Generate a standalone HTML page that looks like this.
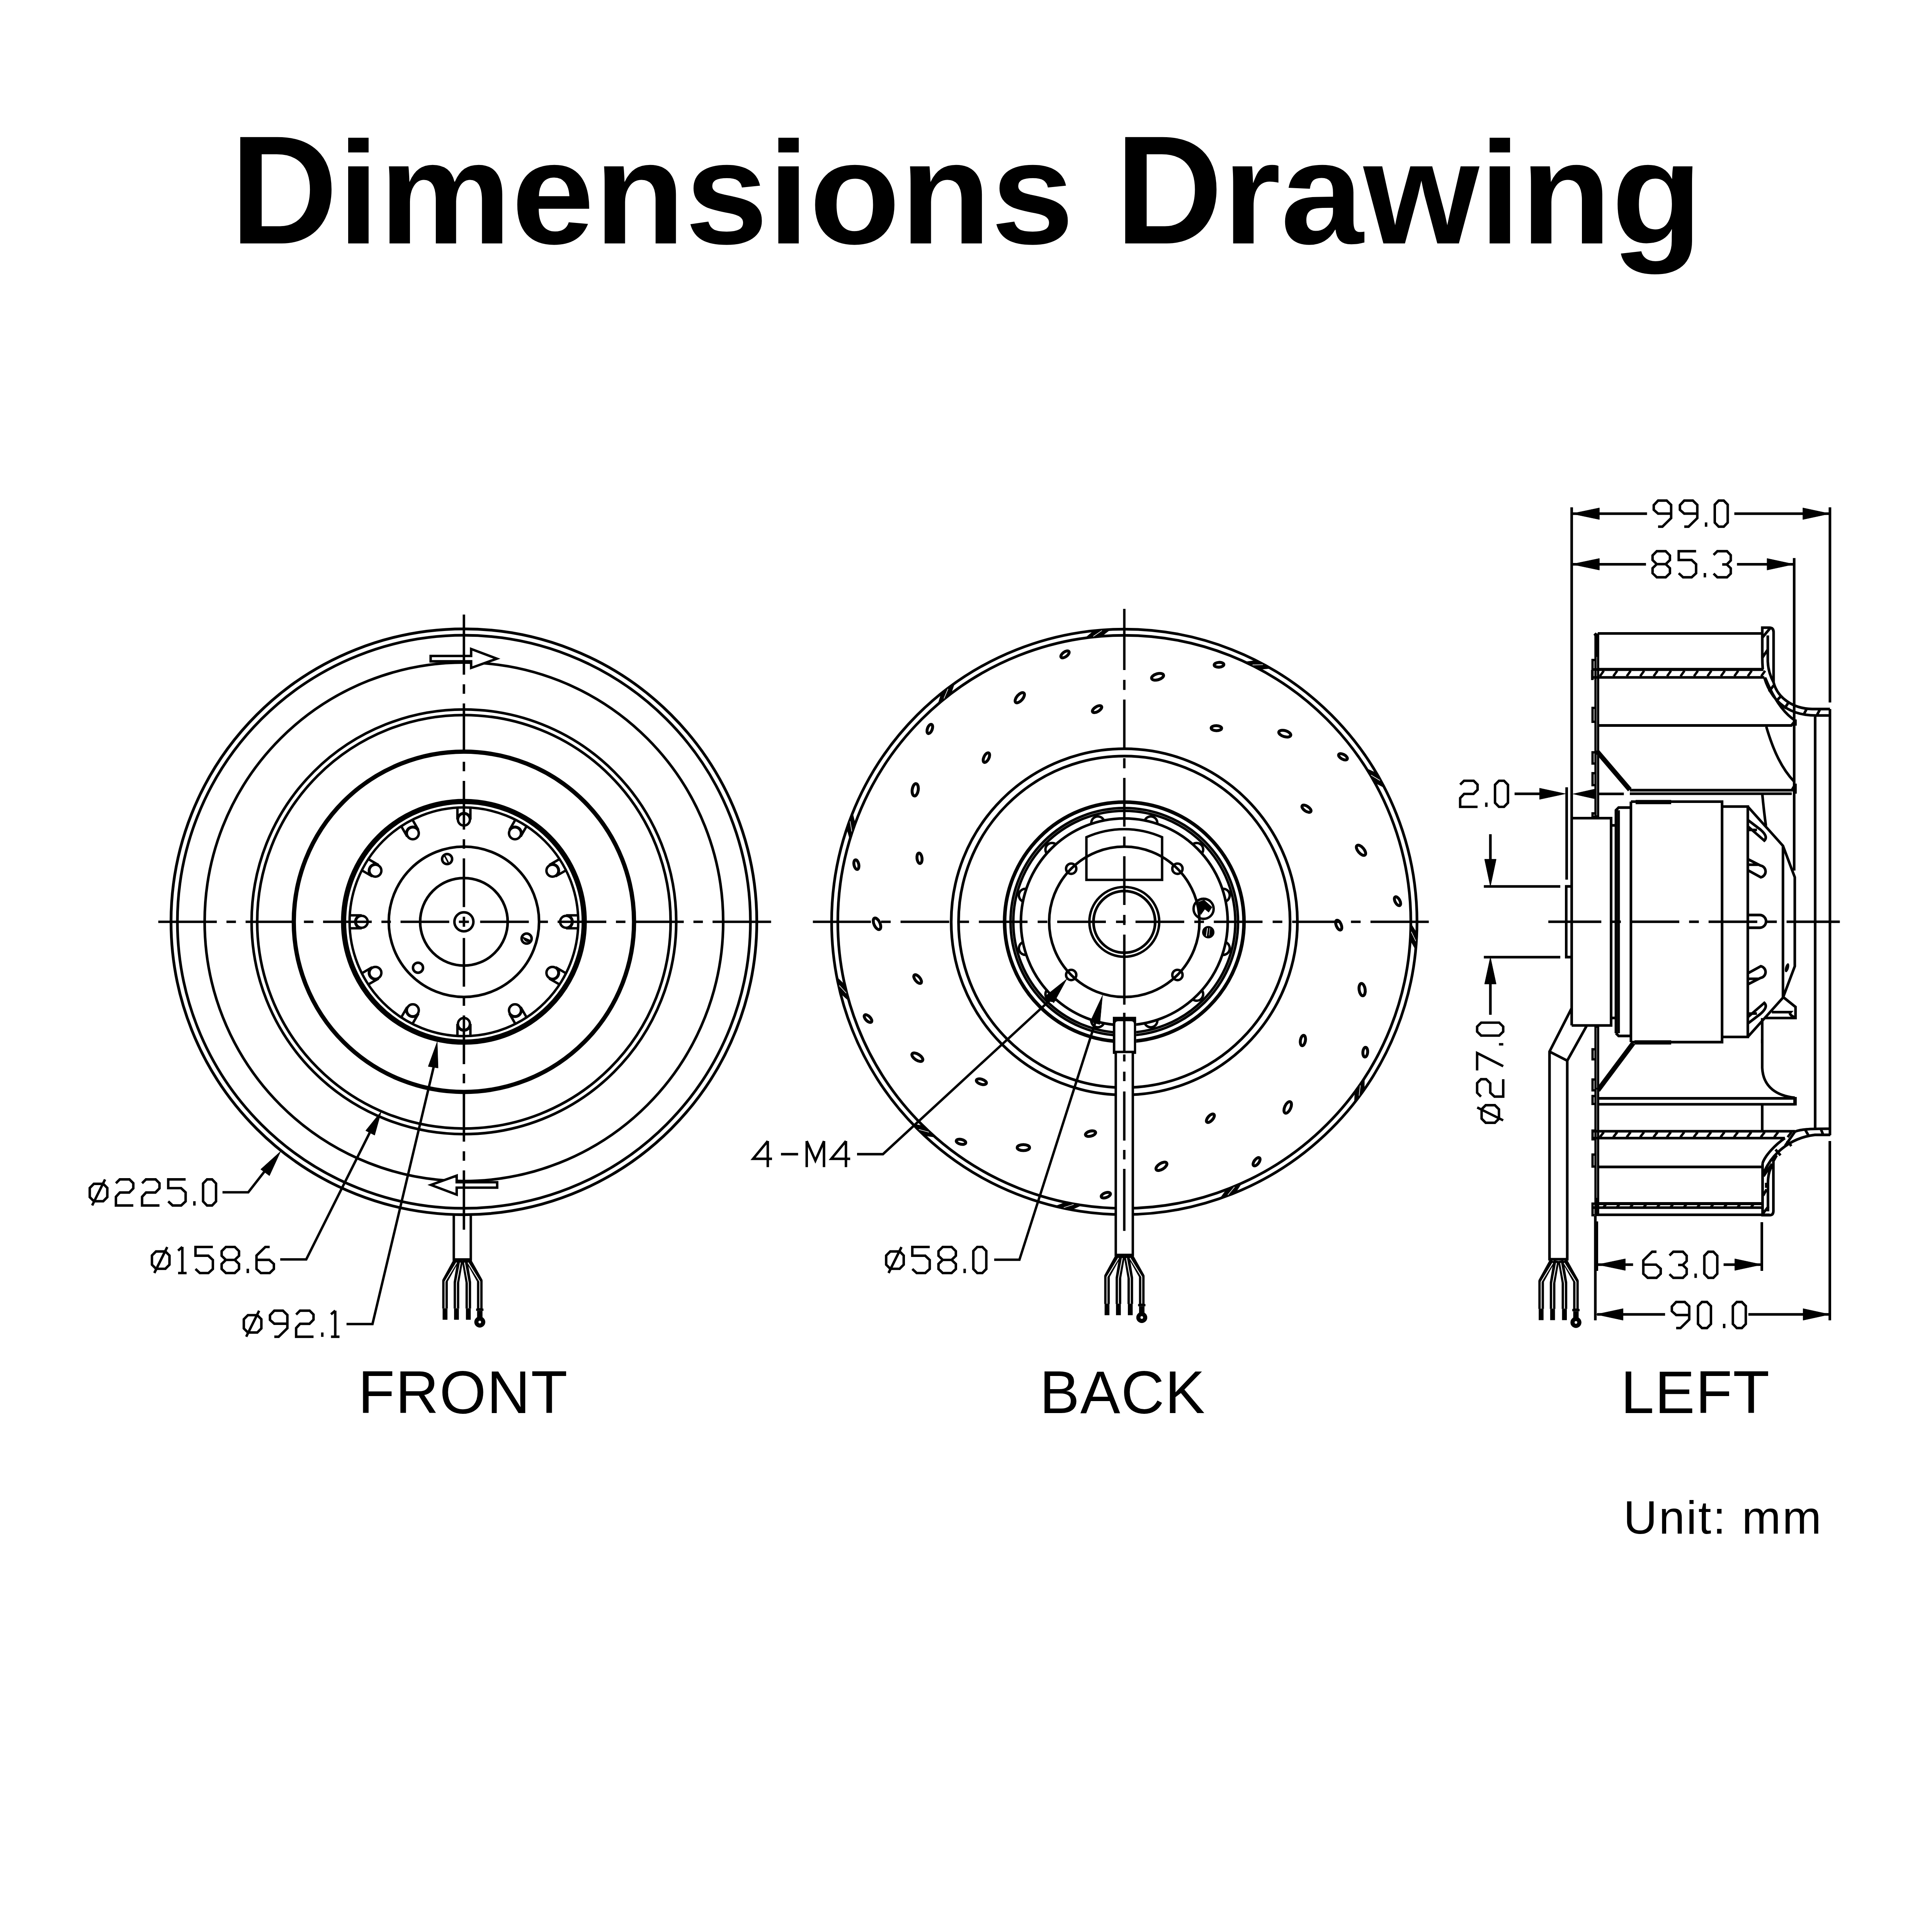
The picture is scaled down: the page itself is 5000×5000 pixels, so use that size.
<!DOCTYPE html>
<html><head><meta charset="utf-8"><title>Dimensions Drawing</title>
<style>html,body{margin:0;padding:0;background:#fff;}svg{display:block;}</style></head>
<body><svg xmlns="http://www.w3.org/2000/svg" width="5000" height="5000" viewBox="0 0 5000 5000" stroke="#000" fill="none" stroke-linecap="butt" stroke-linejoin="miter">
<rect x="0" y="0" width="5000" height="5000" fill="#fff" stroke="none"/>
<g transform="translate(596 630) scale(0.963 1)" font-family="Liberation Sans" font-weight="bold" font-size="400" fill="#000" stroke="none"><text x="0" y="0">D</text><text transform="translate(288.875 0) scale(1 0.944)" x="0" y="0">imensions</text><text x="2378.31" y="0">D</text><text transform="translate(2667.19 0) scale(1 0.944)" x="0" y="0">rawing</text></g>
<text x="926.8" y="3657" font-family="Liberation Sans" font-size="155" letter-spacing="2" fill="#000" stroke="none">FRONT</text>
<text x="2690.4" y="3657" font-family="Liberation Sans" font-size="155" letter-spacing="2" fill="#000" stroke="none">BACK</text>
<text x="4194.6" y="3657" font-family="Liberation Sans" font-size="155" letter-spacing="2" fill="#000" stroke="none">LEFT</text>
<text x="4201.5" y="3969" font-family="Liberation Sans" font-size="121" letter-spacing="4" fill="#000" stroke="none">Unit: mm</text>
<circle cx="1200.6" cy="2385.6" r="758" stroke-width="7.2" fill="none"/>
<circle cx="1200.6" cy="2385.6" r="741.5" stroke-width="7" fill="none"/>
<circle cx="1200.6" cy="2385.6" r="671" stroke-width="6.8" fill="none"/>
<circle cx="1200.6" cy="2385.6" r="549.5" stroke-width="6.8" fill="none"/>
<circle cx="1200.6" cy="2385.6" r="535" stroke-width="6.8" fill="none"/>
<circle cx="1200.6" cy="2385.6" r="440.3" stroke-width="11" fill="none"/>
<circle cx="1200.6" cy="2385.6" r="311.4" stroke-width="13.5" fill="none"/>
<circle cx="1200.6" cy="2385.6" r="295.9" stroke-width="6.3" fill="none"/>
<circle cx="1200.6" cy="2385.6" r="194.5" stroke-width="6.8" fill="none"/>
<circle cx="1200.6" cy="2385.6" r="113.3" stroke-width="6.8" fill="none"/>
<circle cx="1200.6" cy="2121.1" r="15.5" stroke-width="6.3" fill="none"/>
<circle cx="1332.8" cy="2156.5" r="15.5" stroke-width="6.3" fill="none"/>
<circle cx="1429.7" cy="2253.3" r="15.5" stroke-width="6.3" fill="none"/>
<circle cx="1465.1" cy="2385.6" r="15.5" stroke-width="6.3" fill="none"/>
<circle cx="1429.7" cy="2517.8" r="15.5" stroke-width="6.3" fill="none"/>
<circle cx="1332.8" cy="2614.7" r="15.5" stroke-width="6.3" fill="none"/>
<circle cx="1200.6" cy="2650.1" r="15.5" stroke-width="6.3" fill="none"/>
<circle cx="1068.3" cy="2614.7" r="15.5" stroke-width="6.3" fill="none"/>
<circle cx="971.5" cy="2517.8" r="15.5" stroke-width="6.3" fill="none"/>
<circle cx="936.1" cy="2385.6" r="15.5" stroke-width="6.3" fill="none"/>
<circle cx="971.5" cy="2253.3" r="15.5" stroke-width="6.3" fill="none"/>
<circle cx="1068.3" cy="2156.5" r="15.5" stroke-width="6.3" fill="none"/>
<path d="M1217.4 2089.6 L1217.4 2121.1 A16.8 16.8 0 0 0 1183.8 2121.1 L1183.8 2089.6M1363.1 2137.7 L1347.4 2164.9 A16.8 16.8 0 0 0 1318.3 2148.1 L1334.1 2120.9M1465.3 2252.1 L1438.1 2267.9 A16.8 16.8 0 0 0 1421.3 2238.8 L1448.5 2223.1M1496.6 2402.4 L1465.1 2402.4 A16.8 16.8 0 0 0 1465.1 2368.8 L1496.6 2368.8M1448.5 2548.1 L1421.3 2532.4 A16.8 16.8 0 0 0 1438.1 2503.3 L1465.3 2519.1M1334.1 2650.3 L1318.3 2623.1 A16.8 16.8 0 0 0 1347.4 2606.3 L1363.1 2633.5M1183.8 2681.6 L1183.8 2650.1 A16.8 16.8 0 0 0 1217.4 2650.1 L1217.4 2681.6M1038.1 2633.5 L1053.8 2606.3 A16.8 16.8 0 0 0 1082.9 2623.1 L1067.1 2650.3M935.9 2519.1 L963.1 2503.3 A16.8 16.8 0 0 0 979.9 2532.4 L952.7 2548.1M904.6 2368.8 L936.1 2368.8 A16.8 16.8 0 0 0 936.1 2402.4 L904.6 2402.4M952.7 2223.1 L979.9 2238.8 A16.8 16.8 0 0 0 963.1 2267.9 L935.9 2252.1M1067.1 2120.9 L1082.9 2148.1 A16.8 16.8 0 0 0 1053.8 2164.9 L1038.1 2137.7" stroke-width="6.3" fill="none"/>
<circle cx="1362.9" cy="2429.1" r="13" stroke-width="6.5" fill="none"/>
<circle cx="1081.8" cy="2504.4" r="13" stroke-width="6.5" fill="none"/>
<circle cx="1157.1" cy="2223.3" r="13" stroke-width="6.5" fill="none"/>
<path d="M1151.1 2215.3 L1160.1 2232.3" stroke-width="4" fill="none"/>
<path d="M1353.9 2426.1 Q1360.9 2441.1 1372.9 2434.1 Z" stroke-width="3" fill="#000"/>
<circle cx="1200.6" cy="2385.6" r="24.6" stroke-width="6.5" fill="none"/>
<path d="M1187.6 2385.6H1213.6 M1200.6 2372.6V2398.6" stroke-width="6.3" fill="none"/>
<path d="M1114.5 1697.6 L1219.3 1697.6 L1219.3 1679.6 L1285.9 1704.6 L1219.3 1728.6 L1219.3 1711.5 L1114.5 1711.5 Z" stroke-width="6.3" fill="#fff"/>
<path d="M1114.5 1697.6 L1219.3 1697.6 L1219.3 1679.6 L1285.9 1704.6 L1219.3 1728.6 L1219.3 1711.5 L1114.5 1711.5 Z" stroke-width="6.3" fill="#fff" transform="rotate(180 1200.6 2385.6)"/>
<path d="M1242.6 2385.6H1368.6M1393.6 2385.6H1418.1M1443.1 2385.6H1569.1M1594.1 2385.6H1618.6M1643.6 2385.6H1769.6M1794.6 2385.6H1819.1M1844.1 2385.6H1995.6M1162.6 2385.6H1036.6M1011.6 2385.6H987.1M962.1 2385.6H836.1M811.1 2385.6H786.6M761.6 2385.6H635.6M610.6 2385.6H586.1M561.1 2385.6H409.6" stroke-width="6.3" fill="none"/>
<path d="M1200.6 2427.4V2553.4M1200.6 2578.4V2602.9M1200.6 2627.9V2753.9M1200.6 2778.9V2803.4M1200.6 2828.4V2954.4M1200.6 2979.4V3003.9M1200.6 3028.9V3182.6M1200.6 2347.4V2221.4M1200.6 2196.4V2171.9M1200.6 2146.9V2020.9M1200.6 1995.9V1971.4M1200.6 1946.4V1820.4M1200.6 1795.4V1770.9M1200.6 1745.9V1590.6" stroke-width="6.3" fill="none"/>
<path d="M1174.4 3141 V3259.5 H1218.4 V3141" stroke-width="6.3" fill="none"/>
<path d="M1180.9 3261.5 L1151.7 3314.5 L1151.7 3386.5M1191 3261.5 L1181.3 3318.5 L1181.3 3386.5M1202.4 3261.5 L1212 3318.5 L1212 3386.5M1212 3261.5 L1241.7 3314.5 L1241.7 3387.5" stroke-width="14.5" fill="none" stroke-linejoin="round"/>
<path d="M1181.7 3267.5 L1151.7 3316.5 L1151.7 3385.5M1191.3 3267.5 L1181.3 3320.5 L1181.3 3385.5M1202.1 3267.5 L1212 3320.5 L1212 3385.5M1211.2 3267.5 L1241.7 3316.5 L1241.7 3385.5" stroke-width="2.4" fill="none" stroke="#fff"/>
<rect x="1145.5" y="3386.5" width="12.5" height="29" fill="#000" stroke="none"/>
<rect x="1175.1" y="3386.5" width="12.5" height="29" fill="#000" stroke="none"/>
<rect x="1205.8" y="3386.5" width="12.5" height="29" fill="#000" stroke="none"/>
<rect x="1232.2" y="3386.5" width="19" height="6" fill="#000" stroke="none"/>
<rect x="1234.7" y="3392.5" width="14" height="24" fill="#000" stroke="none"/>
<circle cx="1241.7" cy="3421.5" r="14.2" fill="#000" stroke="none"/>
<circle cx="1241.7" cy="3421.5" r="3.4" fill="#fff" stroke="none"/>
<circle cx="2909.7" cy="2385.7" r="757.5" stroke-width="7" fill="none"/>
<circle cx="2909.7" cy="2385.7" r="741.5" stroke-width="7" fill="none"/>
<circle cx="2909.7" cy="2385.7" r="448" stroke-width="7" fill="none"/>
<circle cx="2909.7" cy="2385.7" r="429" stroke-width="7" fill="none"/>
<circle cx="2909.7" cy="2385.7" r="309.8" stroke-width="9.2" fill="none"/>
<circle cx="2909.7" cy="2385.7" r="294.4" stroke-width="6.5" fill="none"/>
<circle cx="2909.7" cy="2385.7" r="287.3" stroke-width="6.5" fill="none"/>
<circle cx="2909.7" cy="2385.7" r="267.6" stroke-width="6.8" fill="none"/>
<circle cx="2909.7" cy="2385.7" r="194.5" stroke-width="6.8" fill="none"/>
<circle cx="2909.7" cy="2385.7" r="90.4" stroke-width="6.3" fill="none"/>
<circle cx="2909.7" cy="2385.7" r="79.8" stroke-width="7" fill="none"/>
<polygon points="2810.3,1650.9 2832.5,1632.1 2872,1629.1 2849.6,1646.6" stroke-width="3" fill="#000"/>
<line x1="2829.5" y1="1647" x2="2851.7" y2="1631.9" stroke-width="1.6"/>
<line x1="2829.5" y1="1647" x2="2851.7" y2="1631.9" stroke="#fff" stroke-width="1.6"/>
<polygon points="3223.4,1713.8 3252.2,1710 3287,1728.9 3258.7,1731.5" stroke-width="3" fill="#000"/>
<line x1="3241.5" y1="1720.9" x2="3268.4" y2="1720.2" stroke-width="1.6"/>
<line x1="3241.5" y1="1720.9" x2="3268.4" y2="1720.2" stroke="#fff" stroke-width="1.6"/>
<polygon points="3536.8,1990.1 3563.1,2002.4 3582.2,2037.2 3557,2024" stroke-width="3" fill="#000"/>
<line x1="3548.3" y1="2005.9" x2="3571.3" y2="2019.8" stroke-width="1.6"/>
<line x1="3548.3" y1="2005.9" x2="3571.3" y2="2019.8" stroke="#fff" stroke-width="1.6"/>
<polygon points="3651.2,2391.9 3666.6,2416.5 3663.9,2456.1 3649.8,2431.4" stroke-width="3" fill="#000"/>
<line x1="3652.3" y1="2411.4" x2="3664.1" y2="2435.6" stroke-width="1.6"/>
<line x1="3652.3" y1="2411.4" x2="3664.1" y2="2435.6" stroke="#fff" stroke-width="1.6"/>
<polygon points="3530.1,2791.8 3529.8,2820.8 3506.1,2852.7 3507.6,2824.3" stroke-width="3" fill="#000"/>
<line x1="3520.5" y1="2808.8" x2="3517.3" y2="2835.5" stroke-width="1.6"/>
<line x1="3520.5" y1="2808.8" x2="3517.3" y2="2835.5" stroke="#fff" stroke-width="1.6"/>
<polygon points="3212,3062.8 3196.1,3087 3159,3101 3175.6,3077.9" stroke-width="3" fill="#000"/>
<line x1="3194.8" y1="3071.8" x2="3177.7" y2="3092.6" stroke-width="1.6"/>
<line x1="3194.8" y1="3071.8" x2="3177.7" y2="3092.6" stroke="#fff" stroke-width="1.6"/>
<polygon points="2798,3118.7 2771.5,3130.5 2732.7,3122.2 2759.2,3111.8" stroke-width="3" fill="#000"/>
<line x1="2778.6" y1="3117" x2="2753" y2="3125.3" stroke-width="1.6"/>
<line x1="2778.6" y1="3117" x2="2753" y2="3125.3" stroke="#fff" stroke-width="1.6"/>
<polygon points="2419.4,2942 2390.8,2937.5 2362.6,2909.6 2390.5,2915.1" stroke-width="3" fill="#000"/>
<line x1="2404" y1="2930.1" x2="2378" y2="2923.1" stroke-width="1.6"/>
<line x1="2404" y1="2930.1" x2="2378" y2="2923.1" stroke="#fff" stroke-width="1.6"/>
<polygon points="2196.5,2588.6 2174.8,2569.4 2166.2,2530.6 2186.7,2550.4" stroke-width="3" fill="#000"/>
<line x1="2190" y1="2570.2" x2="2171.9" y2="2550.4" stroke-width="1.6"/>
<line x1="2190" y1="2570.2" x2="2171.9" y2="2550.4" stroke="#fff" stroke-width="1.6"/>
<polygon points="2200,2170.8 2192.2,2142.9 2205.9,2105.7 2212.5,2133.4" stroke-width="3" fill="#000"/>
<line x1="2204.5" y1="2151.8" x2="2200" y2="2125.3" stroke-width="1.6"/>
<line x1="2204.5" y1="2151.8" x2="2200" y2="2125.3" stroke="#fff" stroke-width="1.6"/>
<polygon points="2428.9,1821.2 2437.3,1793.5 2469,1769.6 2459.6,1796.5" stroke-width="3" fill="#000"/>
<line x1="2442.9" y1="1807.7" x2="2453.4" y2="1782.9" stroke-width="1.6"/>
<line x1="2442.9" y1="1807.7" x2="2453.4" y2="1782.9" stroke="#fff" stroke-width="1.6"/>
<ellipse cx="2756.2" cy="1693.5" rx="12.5" ry="6.2" stroke-width="7.6" fill="none" transform="rotate(-36.5 2756.2 1693.5)"/>
<ellipse cx="3154.8" cy="1720.4" rx="12.5" ry="6.2" stroke-width="7.6" fill="none" transform="rotate(-3.8 3154.8 1720.4)"/>
<ellipse cx="3475.6" cy="1958.6" rx="12.5" ry="6.2" stroke-width="7.6" fill="none" transform="rotate(29 3475.6 1958.6)"/>
<ellipse cx="3616.7" cy="2332.3" rx="12.5" ry="6.2" stroke-width="7.6" fill="none" transform="rotate(61.7 3616.7 2332.3)"/>
<ellipse cx="3533.3" cy="2723" rx="12.5" ry="6.2" stroke-width="7.6" fill="none" transform="rotate(94.4 3533.3 2723)"/>
<ellipse cx="3252" cy="3006.6" rx="12.5" ry="6.2" stroke-width="7.6" fill="none" transform="rotate(127.1 3252 3006.6)"/>
<ellipse cx="2861.9" cy="3093.1" rx="12.5" ry="6.2" stroke-width="7.6" fill="none" transform="rotate(159.9 2861.9 3093.1)"/>
<ellipse cx="2487.1" cy="2955" rx="12.5" ry="6.2" stroke-width="7.6" fill="none" transform="rotate(192.6 2487.1 2955)"/>
<ellipse cx="2246.4" cy="2636.1" rx="12.5" ry="6.2" stroke-width="7.6" fill="none" transform="rotate(225.3 2246.4 2636.1)"/>
<ellipse cx="2216.3" cy="2237.7" rx="12.5" ry="6.2" stroke-width="7.6" fill="none" transform="rotate(258 2216.3 2237.7)"/>
<ellipse cx="2406.4" cy="1886.4" rx="12.5" ry="6.2" stroke-width="7.6" fill="none" transform="rotate(290.8 2406.4 1886.4)"/>
<ellipse cx="2639.2" cy="1805.7" rx="16" ry="7.8" stroke-width="7.6" fill="none" transform="rotate(-49 2639.2 1805.7)"/>
<ellipse cx="2995.8" cy="1751.5" rx="16" ry="7.8" stroke-width="7.6" fill="none" transform="rotate(-16.3 2995.8 1751.5)"/>
<ellipse cx="3325" cy="1898.7" rx="16" ry="7.8" stroke-width="7.6" fill="none" transform="rotate(16.5 3325 1898.7)"/>
<ellipse cx="3522.3" cy="2200.5" rx="16" ry="7.8" stroke-width="7.6" fill="none" transform="rotate(49.2 3522.3 2200.5)"/>
<ellipse cx="3525.2" cy="2561.1" rx="16" ry="7.8" stroke-width="7.6" fill="none" transform="rotate(81.9 3525.2 2561.1)"/>
<ellipse cx="3332.6" cy="2866" rx="16" ry="7.8" stroke-width="7.6" fill="none" transform="rotate(114.6 3332.6 2866)"/>
<ellipse cx="3005.8" cy="3018.4" rx="16" ry="7.8" stroke-width="7.6" fill="none" transform="rotate(147.4 3005.8 3018.4)"/>
<ellipse cx="2648.5" cy="2970" rx="16" ry="7.8" stroke-width="7.6" fill="none" transform="rotate(180.1 2648.5 2970)"/>
<ellipse cx="2374.1" cy="2736" rx="16" ry="7.8" stroke-width="7.6" fill="none" transform="rotate(212.8 2374.1 2736)"/>
<ellipse cx="2269.7" cy="2390.8" rx="16" ry="7.8" stroke-width="7.6" fill="none" transform="rotate(245.5 2269.7 2390.8)"/>
<ellipse cx="2368.6" cy="2044" rx="16" ry="7.8" stroke-width="7.6" fill="none" transform="rotate(278.3 2368.6 2044)"/>
<ellipse cx="2839.2" cy="1835.2" rx="13.5" ry="6.5" stroke-width="7.6" fill="none" transform="rotate(-31.3 2839.2 1835.2)"/>
<ellipse cx="3148" cy="1884.5" rx="13.5" ry="6.5" stroke-width="7.6" fill="none" transform="rotate(1.4 3148 1884.5)"/>
<ellipse cx="3381.2" cy="2092.9" rx="13.5" ry="6.5" stroke-width="7.6" fill="none" transform="rotate(34.2 3381.2 2092.9)"/>
<ellipse cx="3464.6" cy="2394.2" rx="13.5" ry="6.5" stroke-width="7.6" fill="none" transform="rotate(66.9 3464.6 2394.2)"/>
<ellipse cx="3371.9" cy="2692.9" rx="13.5" ry="6.5" stroke-width="7.6" fill="none" transform="rotate(99.6 3371.9 2692.9)"/>
<ellipse cx="3132.5" cy="2894" rx="13.5" ry="6.5" stroke-width="7.6" fill="none" transform="rotate(132.3 3132.5 2894)"/>
<ellipse cx="2822.3" cy="2933.8" rx="13.5" ry="6.5" stroke-width="7.6" fill="none" transform="rotate(165.1 2822.3 2933.8)"/>
<ellipse cx="2539.8" cy="2799.5" rx="13.5" ry="6.5" stroke-width="7.6" fill="none" transform="rotate(197.8 2539.8 2799.5)"/>
<ellipse cx="2374.8" cy="2533.8" rx="13.5" ry="6.5" stroke-width="7.6" fill="none" transform="rotate(230.5 2374.8 2533.8)"/>
<ellipse cx="2379.7" cy="2221.2" rx="13.5" ry="6.5" stroke-width="7.6" fill="none" transform="rotate(263.2 2379.7 2221.2)"/>
<ellipse cx="2552.8" cy="1960.7" rx="13.5" ry="6.5" stroke-width="7.6" fill="none" transform="rotate(296 2552.8 1960.7)"/>
<path d="M3162.8 2471 A17 17 0 0 0 3171.5 2438.3M3086.2 2586.1 A17 17 0 0 0 3110.1 2562.2M2962.3 2647.5 A17 17 0 0 0 2995 2638.8M2824.4 2638.8 A17 17 0 0 0 2857.1 2647.5M2709.3 2562.2 A17 17 0 0 0 2733.2 2586.1M2647.9 2438.3 A17 17 0 0 0 2656.6 2471M2656.6 2300.4 A17 17 0 0 0 2647.9 2333.1M2733.2 2185.3 A17 17 0 0 0 2709.3 2209.2M2857.1 2123.9 A17 17 0 0 0 2824.4 2132.6M2995 2132.6 A17 17 0 0 0 2962.3 2123.9M3110.1 2209.2 A17 17 0 0 0 3086.2 2185.3M3171.5 2333.1 A17 17 0 0 0 3162.8 2300.4" stroke-width="6.3" fill="none"/>
<circle cx="3047.2" cy="2523.2" r="13.3" stroke-width="6.3" fill="none"/>
<circle cx="2772.2" cy="2523.2" r="13.3" stroke-width="6.3" fill="none"/>
<circle cx="2772.2" cy="2248.2" r="13.3" stroke-width="6.3" fill="none"/>
<circle cx="3047.2" cy="2248.2" r="13.3" stroke-width="6.3" fill="none"/>
<path d="M2811.6 2166.7 A240 240 0 0 1 3007.5 2166.7 V2277.2 H2811.6 Z" stroke-width="6.3" fill="none"/>
<circle cx="3114.9" cy="2352" r="26" stroke-width="6.3" fill="none"/>
<path d="M3102 2335 L3116 2330 L3136 2348 L3128 2360 L3118 2352 L3108 2366 L3104 2356 Z" stroke-width="2" fill="#000"/>
<ellipse cx="3127" cy="2412.5" rx="16" ry="16" fill="#000" stroke="none"/>
<line x1="3125" y1="2402" x2="3122" y2="2423" stroke="#fff" stroke-width="2.2"/>
<line x1="3131" y1="2402" x2="3129" y2="2421" stroke="#fff" stroke-width="1.2"/>
<path d="M2103.7 2385.7H2253.9M2280.1 2385.7H2305.1M2330.6 2385.7H2456.6M2482.8 2385.7H2507.8M2533.3 2385.7H2659.3M2685.5 2385.7H2710.5M2736 2385.7H2862M2888.2 2385.7H2913.2M2938.7 2385.7H3064.7M3090.9 2385.7H3115.9M3141.4 2385.7H3267.4M3293.6 2385.7H3318.6M3344.1 2385.7H3470.1M3496.3 2385.7H3521.3M3546.8 2385.7H3697.7" stroke-width="6.3" fill="none"/>
<path d="M2909.7 1575.7V1733.9M2909.7 1759.6V1785.6M2909.7 1810.6V1936.6M2909.7 1962.3V1988.3M2909.7 2013.3V2139.3M2909.7 2165V2191M2909.7 2216V2342M2909.7 2367.7V2393.7M2909.7 2418.7V2600" stroke-width="6.3" fill="none"/>
<rect x="2880" y="2631.5" width="60.3" height="96" fill="#fff" stroke="none"/>
<path d="M2880 2631.5 H2940.3 V2727.5 H2880 Z M2886.5 2650 Q2886.5 2643 2893.5 2643 H2927.5 Q2934.5 2643 2934.5 2650 V2721 H2886.5 Z" fill="#000" fill-rule="evenodd" stroke="none"/>
<rect x="2887.6" y="2722.4" width="44.1" height="525.3" fill="#fff" stroke-width="6.3"/>
<path d="M2909.6 2621V2724.6M2909.6 2729V2747M2909.6 2773.6V2798M2909.6 2824.8V2951.7M2909.6 2976V3000.6M2909.6 3025V3185.4" stroke-width="6.3" fill="none"/>
<path d="M2894.1 3249.7 L2864.9 3302.7 L2864.9 3374.7M2904.2 3249.7 L2894.5 3306.7 L2894.5 3374.7M2915.6 3249.7 L2925.2 3306.7 L2925.2 3374.7M2925.2 3249.7 L2954.9 3302.7 L2954.9 3375.7" stroke-width="14.5" fill="none" stroke-linejoin="round"/>
<path d="M2894.9 3255.7 L2864.9 3304.7 L2864.9 3373.7M2904.5 3255.7 L2894.5 3308.7 L2894.5 3373.7M2915.3 3255.7 L2925.2 3308.7 L2925.2 3373.7M2924.4 3255.7 L2954.9 3304.7 L2954.9 3373.7" stroke-width="2.4" fill="none" stroke="#fff"/>
<rect x="2858.7" y="3374.7" width="12.5" height="29" fill="#000" stroke="none"/>
<rect x="2888.2" y="3374.7" width="12.5" height="29" fill="#000" stroke="none"/>
<rect x="2918.9" y="3374.7" width="12.5" height="29" fill="#000" stroke="none"/>
<rect x="2945.4" y="3374.7" width="19" height="6" fill="#000" stroke="none"/>
<rect x="2947.9" y="3380.7" width="14" height="24" fill="#000" stroke="none"/>
<circle cx="2954.9" cy="3409.7" r="14.2" fill="#000" stroke="none"/>
<circle cx="2954.9" cy="3409.7" r="3.4" fill="#fff" stroke="none"/>
<path d="M4067.5 1313 V2653.8 M4735.9 1313 V1818 M4643.3 1444.3 V2253 M4070 1329.4 H4262.5 M4488.4 1329.4 H4733 M4070 1460.3 H4259.8 M4495.3 1460.3 H4640 M3919.7 2054.4 H3990 M4135.9 2054.7 H4202.5 M4054.5 2037.6 V2276.5 M3857.1 2159.1 V2230 M3857.1 2540 V2626.2 M3840.2 2294.1 H4038 M3840.2 2477.1 H4038 M4134.5 3272.8 H4226.4 M4460.6 3272.8 H4557 M4132.6 3161 V3289 M4559.6 3163 V3289 M4133 3401.7 H4309.2 M4524.7 3401.7 H4733 M4128.7 3145.5 V3417 M4735.6 2953 V3417" stroke-width="6.8" fill="none"/>
<polygon points="4067.5,1329.4 4139.2,1314.4 4139.2,1344.4" stroke-width="1" fill="#000"/>
<polygon points="4735.9,1329.4 4665.8,1344.4 4665.8,1314.4" stroke-width="1" fill="#000"/>
<polygon points="4067.5,1460.3 4139.2,1445.3 4139.2,1475.3" stroke-width="1" fill="#000"/>
<polygon points="4642.8,1460.3 4573.1,1475.3 4573.1,1445.3" stroke-width="1" fill="#000"/>
<polygon points="4051.6,2054.3 3984.3,2068.8 3984.3,2039.8" stroke-width="1" fill="#000"/>
<polygon points="4071,2054.7 4129.1,2041.7 4129.1,2067.7" stroke-width="1" fill="#000"/>
<polygon points="3857.1,2294.1 3842.1,2223.7 3872.1,2223.7" stroke-width="1" fill="#000"/>
<polygon points="3857.1,2477.1 3872.1,2546.7 3842.1,2546.7" stroke-width="1" fill="#000"/>
<polygon points="4134.5,3272.8 4206.3,3257.8 4206.3,3287.8" stroke-width="1" fill="#000"/>
<polygon points="4559.6,3272.8 4489.7,3287.8 4489.7,3257.8" stroke-width="1" fill="#000"/>
<polygon points="4130.6,3401.7 4200.5,3386.7 4200.5,3416.7" stroke-width="1" fill="#000"/>
<polygon points="4735.4,3401.7 4666.4,3416.7 4666.4,3386.7" stroke-width="1" fill="#000"/>
<path d="M4067.5 2294 H4053.4 V2477 H4067.5 M4067.5 2117.3 H4169.5 V2653.8 H4067.5 M4169.5 2136 H4182 M4169.5 2634.5 H4182 M4182 2674 V2097 L4189 2090 H4221 M4188.9 2097 V2674 M4182 2674 L4189 2681 H4221 M4220.8 2074.6 V2697 M4220.8 2074.6 H4456.7 V2697 H4220.8 M4456.7 2087.4 H4523.3 V2683.6 H4456.7 M4523.3 2087.4 L4614.3 2189 L4644.9 2270.3 V2500.7 L4614.3 2582 L4523.3 2683.6 M4614.3 2189 V2582 M4523.3 2368 H4554 A16 16 0 0 1 4554 2401 H4523.3 M4523.3 2223.4 L4556 2240 A15.5 15.5 0 0 1 4557 2270.5 L4523.3 2252.1 M4523.3 2237.8 H4551 M4523.3 2547.6 L4556 2531 A15.5 15.5 0 0 0 4557 2500.5 L4523.3 2518.9 M4523.3 2533.2 H4551 M4523.3 2122 L4556 2147 Q4577 2165 4566 2175.5 L4523.3 2138.5 M4523.3 2147.8 H4547 M4523.3 2649 L4556 2624 Q4577 2606 4566 2595.5 L4523.3 2632.5 M4523.3 2623.2 H4547 M4560.6 2053 Q4565 2100 4570.2 2137.2 M4614.3 2580 L4646.8 2606 V2634.7 H4566.4 M4585.5 2619.4 H4634 Q4628 2626 4646.8 2634 M4560.6 2634.7 V2700 M4560.6 2858 V2926.7" stroke-width="6.8" fill="none"/>
<path d="M4233 2075.7 H4325 M4230 2697.8 H4325" stroke-width="11" fill="none"/>
<ellipse cx="4624.8" cy="2504.5" rx="5" ry="12" transform="rotate(15 4624.8 2504.5)" fill="#000" stroke="none"/>
<path d="M4135 1639.3 H4560.8 M4126 1645 L4132 1639.3 M4135 1877.5 H4635.8 L4646.4 1865.2 M4218 2045 H4637.2 L4646 2030 M4218 2054.1 H4637.2 M4571.2 1880.9 C4590 1945 4612 1990 4643 2022.5 M4590 1635.5 V1766 M4562 1732.3 Q4560.8 1715 4560.8 1700 V1624.3 H4579 Q4590 1624.3 4590 1636 M4575 1644.5 V1712 Q4576 1740 4590 1766 M4561 1650 L4581 1626 M4561 1702 L4575 1681 M4590 1766 C4600 1806 4640 1834 4690 1835 H4735.9 M4566 1753.3 C4580 1800 4615 1851.7 4699.6 1851.7 H4735.9 M4568.3 1754 C4590 1808 4615 1845 4646.4 1865.2 M4697.6 1851.7 V2920 M4735.9 1835 V2938 M4578 1790 L4590 1774 M4596 1815 L4611 1800 M4618 1834 L4630 1816 M4668 1849 L4676 1834 M4702 1851 L4710 1836" stroke-width="6.8" fill="none"/>
<path d="M4132.5 1639.3 V2117.3 M4132.5 2653.8 V3144" stroke-width="12.5" fill="none"/>
<path d="M4132.5 1700 V2110 M4132.5 2660 V3100" stroke="#fff" stroke-width="1"/>
<path d="M4120 1732.6 H4563.5 M4120 1753.1 H4566" stroke-width="6.8" fill="none"/>
<path d="M4135 1732.6 H4563.5" stroke-width="8" fill="none"/>
<path d="M4140.5 1750 L4150.5 1736M4175.3 1750 L4185.3 1736M4210.1 1750 L4220.1 1736M4244.9 1750 L4254.9 1736M4279.7 1750 L4289.7 1736M4314.5 1750 L4324.5 1736M4349.3 1750 L4359.3 1736M4384.1 1750 L4394.1 1736M4418.9 1750 L4428.9 1736M4453.7 1750 L4463.7 1736M4488.5 1750 L4498.5 1736M4523.3 1750 L4533.3 1736M4558.1 1750 L4568.1 1736" stroke-width="6.2" fill="none"/>
<path d="M4121 1734 V1760" stroke-width="6.8" fill="none"/>
<path d="M4131.8 1943 L4218 2043.9" stroke-width="12.5" fill="none"/>
<path d="M4645.5 1862 V1878 M4645.5 2028 V2054" stroke-width="9" fill="none"/>
<path d="M4136 2842.5 H4645.4 M4136 2857.8 H4645.4 M4560.6 2690 V2763.4 C4563 2815 4600 2836 4645 2841 M4120 2927.7 H4645.4 M4120 2945.4 H4619.3 M4619.3 2945.4 C4595 2962 4568 2990 4561.5 3010.6 M4645.4 2928.6 C4660 2923 4680 2921 4736.7 2921.2 M4561.5 3044 C4580 2990 4630 2945 4697 2937 H4736.7 M4645.4 2928.6 L4620 2965 M4135 3020 H4561.5 M4561.5 3010.6 V3144.8 H4580 Q4589.5 3144.8 4589.5 3134 V3005 L4598 2990 M4575.5 3135 V3060 Q4576 3032 4586 3018 M4120 3125.3 H4561.5 M4128 3143.9 H4580 M4563 3140 L4577 3122 M4563 3094 L4572 3078 M4564 3044 L4586 3012 M4571 3061 V3074 M4595 2975 L4608 2990 M4625 2952 L4636 2966 M4672 2924 L4680 2938 M4712 2921 L4718 2936" stroke-width="6.8" fill="none"/>
<path d="M4135 3115 H4561.5" stroke-width="8" fill="none"/>
<path d="M4140.5 2943 L4150.5 2930M4175.2 2943 L4185.2 2930M4209.9 2943 L4219.9 2930M4244.6 2943 L4254.6 2930M4279.3 2943 L4289.3 2930M4314 2943 L4324 2930M4348.7 2943 L4358.7 2930M4383.4 2943 L4393.4 2930M4418.1 2943 L4428.1 2930M4452.8 2943 L4462.8 2930M4487.5 2943 L4497.5 2930M4522.2 2943 L4532.2 2930M4556.9 2943 L4566.9 2930M4591.6 2943 L4601.6 2930M4626.3 2943 L4636.3 2930M4150 3124 L4157 3116M4184.7 3124 L4191.7 3116M4219.4 3124 L4226.4 3116M4254.1 3124 L4261.1 3116M4288.8 3124 L4295.8 3116M4323.5 3124 L4330.5 3116M4358.2 3124 L4365.2 3116M4392.9 3124 L4399.9 3116M4427.6 3124 L4434.6 3116M4462.3 3124 L4469.3 3116M4497 3124 L4504 3116M4531.7 3124 L4538.7 3116" stroke-width="6.2" fill="none"/>
<path d="M4135.4 2821.7 L4226.7 2699.7" stroke-width="12.5" fill="none"/>
<path d="M4645.5 2839 V2861" stroke-width="9" fill="none"/>
<path d="M4127 1708 H4121.5 V1733 H4127M4127 1832 H4121.5 V1868 H4127M4127 1947 H4121.5 V1976 H4127M4127 2001 H4121.5 V2032 H4127M4127 2105 H4121.5 V2114 H4127M4127 2715.5 H4121.5 V2741.6 H4127M4127 2793.7 H4121.5 V2821.7 H4127M4127 2836.6 H4121.5 V2857.1 H4127M4127 2926 H4121.5 V2948.4 H4127M4127 2988 H4121.5 V3019 H4127M4127 3115 H4121.5 V3145 H4127" stroke-width="6" fill="none"/>
<path d="M4007 2385.5H4144.2M4169.5 2385.5H4194.8M4220 2385.5H4346M4371.3 2385.5H4396.6M4421.8 2385.5H4547.8M4573.1 2385.5H4598.4M4623.6 2385.5H4761.5" stroke-width="6.3" fill="none"/>
<path d="M4067 2610 L4010.1 2721.5 V3258.8 H4056 V2745 L4105.8 2655.6 M4010.1 2721.5 L4056 2745" stroke-width="6.8" fill="none"/>
<path d="M4017.7 3262.5 L3988.5 3315.5 L3988.5 3387.5M4027.8 3262.5 L4018.1 3319.5 L4018.1 3387.5M4039.2 3262.5 L4048.8 3319.5 L4048.8 3387.5M4048.8 3262.5 L4078.5 3315.5 L4078.5 3388.5" stroke-width="14.5" fill="none" stroke-linejoin="round"/>
<path d="M4018.5 3268.5 L3988.5 3317.5 L3988.5 3386.5M4028.1 3268.5 L4018.1 3321.5 L4018.1 3386.5M4038.9 3268.5 L4048.8 3321.5 L4048.8 3386.5M4048 3268.5 L4078.5 3317.5 L4078.5 3386.5" stroke-width="2.4" fill="none" stroke="#fff"/>
<rect x="3982.2" y="3387.5" width="12.5" height="29" fill="#000" stroke="none"/>
<rect x="4011.8" y="3387.5" width="12.5" height="29" fill="#000" stroke="none"/>
<rect x="4042.5" y="3387.5" width="12.5" height="29" fill="#000" stroke="none"/>
<rect x="4069" y="3387.5" width="19" height="6" fill="#000" stroke="none"/>
<rect x="4071.5" y="3393.5" width="14" height="24" fill="#000" stroke="none"/>
<circle cx="4078.5" cy="3422.5" r="14.2" fill="#000" stroke="none"/>
<circle cx="4078.5" cy="3422.5" r="3.4" fill="#fff" stroke="none"/>
<path transform="translate(232.3 3052.2)" d="M0 22.2 L10.6 11.6 L34.8 11.6 L45.4 22.2 L45.4 45.9 L34.8 56.5 L10.6 56.5 L0 45.9ZM6.2 67.4 L39.6 0.2M67.7 10 L77.7 0 L102.7 0 L112.7 10 L112.7 23.3 L102.2 34 L77.9 34 L67.7 45 L67.7 67.5 L112.7 67.5M135.4 10 L145.4 0 L170.4 0 L180.4 10 L180.4 23.3 L169.9 34 L145.6 34 L135.4 45 L135.4 67.5 L180.4 67.5M248.1 0 L203.1 0 L203.1 22.7 L236.4 22.7 L248.1 33.7 L248.1 57 L236.6 67.5 L214.4 67.5 L203.1 57M293.3 10.5 L303.5 0 L316.6 0 L326.8 10.5 L326.8 57 L316.6 67.5 L303.5 67.5 L293.3 57ZM270.8 56.5 L270.8 67.7" stroke-width="6.4" fill="none" stroke-linejoin="miter" stroke-miterlimit="2.8"/>
<path d="M575.8 3085.7 H642.5 L700 3012" stroke-width="6.3" fill="none"/>
<polygon points="726.4,2979.5 697.3,3042.8 674.7,3026.2" stroke-width="1" fill="#000"/>
<path transform="translate(393.2 3227.1)" d="M0 22.2 L10.6 11.6 L34.8 11.6 L45.4 22.2 L45.4 45.9 L34.8 56.5 L10.6 56.5 L0 45.9ZM6.2 67.4 L39.6 0.2M67.7 9.5 L78.7 0M78.7 0 L78.7 67.5M67.7 67.5 L89.7 67.5M157.7 0 L112.7 0 L112.7 22.7 L146 22.7 L157.7 33.7 L157.7 57 L146.2 67.5 L124 67.5 L112.7 57M180.4 11 L191.4 0 L214.4 0 L225.4 11 L225.4 22.9 L214.4 33.5 L191.4 33.5 L180.4 22.9ZM180.4 44 L191.4 33.5 L214.4 33.5 L225.4 44 L225.4 57 L214.4 67.5 L191.4 67.5 L180.4 57ZM304.7 0 L293.4 0 L270.6 22.3 L270.6 57 L282 67.5 L304.8 67.5 L315.6 57 L315.6 44 L303.7 33.4 L270.6 33.4M248.1 56.5 L248.1 67.7" stroke-width="6.4" fill="none" stroke-linejoin="miter" stroke-miterlimit="2.8"/>
<path d="M725.2 3259.4 H792.5 L960 2925" stroke-width="6.3" fill="none"/>
<polygon points="986.8,2876 969.6,2937.9 946.4,2926.1" stroke-width="1" fill="#000"/>
<path transform="translate(631 3392)" d="M0 22.2 L10.6 11.6 L34.8 11.6 L45.4 22.2 L45.4 45.9 L34.8 56.5 L10.6 56.5 L0 45.9ZM6.2 67.4 L39.6 0.2M78.9 67.5 L90.1 67.5 L112.7 45.3 L112.7 11.2 L101.2 0 L78.9 0 L67.7 11.8 L67.7 23.9 L78.9 33.7 L112.7 33.7M135.4 10 L145.4 0 L170.4 0 L180.4 10 L180.4 23.3 L169.9 34 L145.6 34 L135.4 45 L135.4 67.5 L180.4 67.5M225.6 9.5 L236.6 0M236.6 0 L236.6 67.5M225.6 67.5 L247.6 67.5M203.1 56.5 L203.1 67.7" stroke-width="6.4" fill="none" stroke-linejoin="miter" stroke-miterlimit="2.8"/>
<path d="M896.8 3426.6 H964 L1125 2750" stroke-width="6.3" fill="none"/>
<polygon points="1131.6,2695.8 1133.8,2764.1 1108.2,2759.9" stroke-width="1" fill="#000"/>
<path transform="translate(1949 2953)" d="M38 67.5 L38 0M38 0 L0 46 L49 46M72.2 34 L116.5 34M138.8 67.5 L138.8 0M138.8 0 L161.2 50.5 L183.5 0M183.5 0 L183.5 67.5M240.3 67.5 L240.3 0M240.3 0 L202.3 46 L251.3 46" stroke-width="6.4" fill="none" stroke-linejoin="miter" stroke-miterlimit="2.8"/>
<path d="M2218 2987 H2285 L2720 2586" stroke-width="6.3" fill="none"/>
<polygon points="2761,2533.4 2727.2,2595.4 2705.8,2577.4" stroke-width="1" fill="#000"/>
<path transform="translate(2293.4 3227.1)" d="M0 22.2 L10.6 11.6 L34.8 11.6 L45.4 22.2 L45.4 45.9 L34.8 56.5 L10.6 56.5 L0 45.9ZM6.2 67.4 L39.6 0.2M112.7 0 L67.7 0 L67.7 22.7 L101 22.7 L112.7 33.7 L112.7 57 L101.2 67.5 L79 67.5 L67.7 57M135.4 11 L146.4 0 L169.4 0 L180.4 11 L180.4 22.9 L169.4 33.5 L146.4 33.5 L135.4 22.9ZM135.4 44 L146.4 33.5 L169.4 33.5 L180.4 44 L180.4 57 L169.4 67.5 L146.4 67.5 L135.4 57ZM225.6 10.5 L235.8 0 L248.9 0 L259.1 10.5 L259.1 57 L248.9 67.5 L235.8 67.5 L225.6 57ZM203.1 56.5 L203.1 67.7" stroke-width="6.4" fill="none" stroke-linejoin="miter" stroke-miterlimit="2.8"/>
<path d="M2572.9 3260.2 H2638.3 L2834 2648" stroke-width="6.3" fill="none"/>
<polygon points="2853.3,2576 2846.2,2651.4 2821.2,2644.6" stroke-width="1" fill="#000"/>
<path transform="translate(4279.9 1295.5)" d="M11.2 67.5 L22.4 67.5 L45 45.3 L45 11.2 L33.5 0 L11.2 0 L0 11.8 L0 23.9 L11.2 33.7 L45 33.7M78.9 67.5 L90.1 67.5 L112.7 45.3 L112.7 11.2 L101.2 0 L78.9 0 L67.7 11.8 L67.7 23.9 L78.9 33.7 L112.7 33.7M157.9 10.5 L168.1 0 L181.2 0 L191.4 10.5 L191.4 57 L181.2 67.5 L168.1 67.5 L157.9 57ZM135.4 56.5 L135.4 67.7" stroke-width="6.4" fill="none" stroke-linejoin="miter" stroke-miterlimit="2.8"/>
<path transform="translate(4276.8 1426.5)" d="M0 11 L11 0 L34 0 L45 11 L45 22.9 L34 33.5 L11 33.5 L0 22.9ZM0 44 L11 33.5 L34 33.5 L45 44 L45 57 L34 67.5 L11 67.5 L0 57ZM112.7 0 L67.7 0 L67.7 22.7 L101 22.7 L112.7 33.7 L112.7 57 L101.2 67.5 L79 67.5 L67.7 57M157.9 9.6 L167.8 0 L192.7 0 L202.4 10.2 L202.4 23.9 L192.1 34.2 L180.3 34.2M192.1 34.2 L202.4 44.3 L202.4 57.9 L192.7 67.5 L167.8 67.5 L157.9 58M135.4 56.5 L135.4 67.7" stroke-width="6.4" fill="none" stroke-linejoin="miter" stroke-miterlimit="2.8"/>
<path transform="translate(3778.9 2020.6)" d="M0 10 L10 0 L35 0 L45 10 L45 23.3 L34.5 34 L10.2 34 L0 45 L0 67.5 L45 67.5M90.2 10.5 L100.4 0 L113.5 0 L123.7 10.5 L123.7 57 L113.5 67.5 L100.4 67.5 L90.2 57ZM67.7 56.5 L67.7 67.7" stroke-width="6.4" fill="none" stroke-linejoin="miter" stroke-miterlimit="2.8"/>
<path transform="translate(3822.8 2905.7) rotate(-90)" d="M0 22.2 L10.6 11.6 L34.8 11.6 L45.4 22.2 L45.4 45.9 L34.8 56.5 L10.6 56.5 L0 45.9ZM6.2 67.4 L39.6 0.2M67.7 10 L77.7 0 L102.7 0 L112.7 10 L112.7 23.3 L102.2 34 L77.9 34 L67.7 45 L67.7 67.5 L112.7 67.5M135.4 0 L180.4 0 L146.4 67.5M225.6 10.5 L235.8 0 L248.9 0 L259.1 10.5 L259.1 57 L248.9 67.5 L235.8 67.5 L225.6 57ZM203.1 56.5 L203.1 67.7" stroke-width="6.4" fill="none" stroke-linejoin="miter" stroke-miterlimit="2.8"/>
<path transform="translate(4252.9 3239.5)" d="M34.1 0 L22.8 0 L0 22.3 L0 57 L11.4 67.5 L34.2 67.5 L45 57 L45 44 L33.1 33.4 L0 33.4M67.7 9.6 L77.6 0 L102.5 0 L112.2 10.2 L112.2 23.9 L101.9 34.2 L90.1 34.2M101.9 34.2 L112.2 44.3 L112.2 57.9 L102.5 67.5 L77.6 67.5 L67.7 58M157.9 10.5 L168.1 0 L181.2 0 L191.4 10.5 L191.4 57 L181.2 67.5 L168.1 67.5 L157.9 57ZM135.4 56.5 L135.4 67.7" stroke-width="6.4" fill="none" stroke-linejoin="miter" stroke-miterlimit="2.8"/>
<path transform="translate(4326.7 3369.5)" d="M11.2 67.5 L22.4 67.5 L45 45.3 L45 11.2 L33.5 0 L11.2 0 L0 11.8 L0 23.9 L11.2 33.7 L45 33.7M67.7 10.5 L77.9 0 L91 0 L101.2 10.5 L101.2 57 L91 67.5 L77.9 67.5 L67.7 57ZM157.9 10.5 L168.1 0 L181.2 0 L191.4 10.5 L191.4 57 L181.2 67.5 L168.1 67.5 L157.9 57ZM135.4 56.5 L135.4 67.7" stroke-width="6.4" fill="none" stroke-linejoin="miter" stroke-miterlimit="2.8"/>
</svg></body></html>
